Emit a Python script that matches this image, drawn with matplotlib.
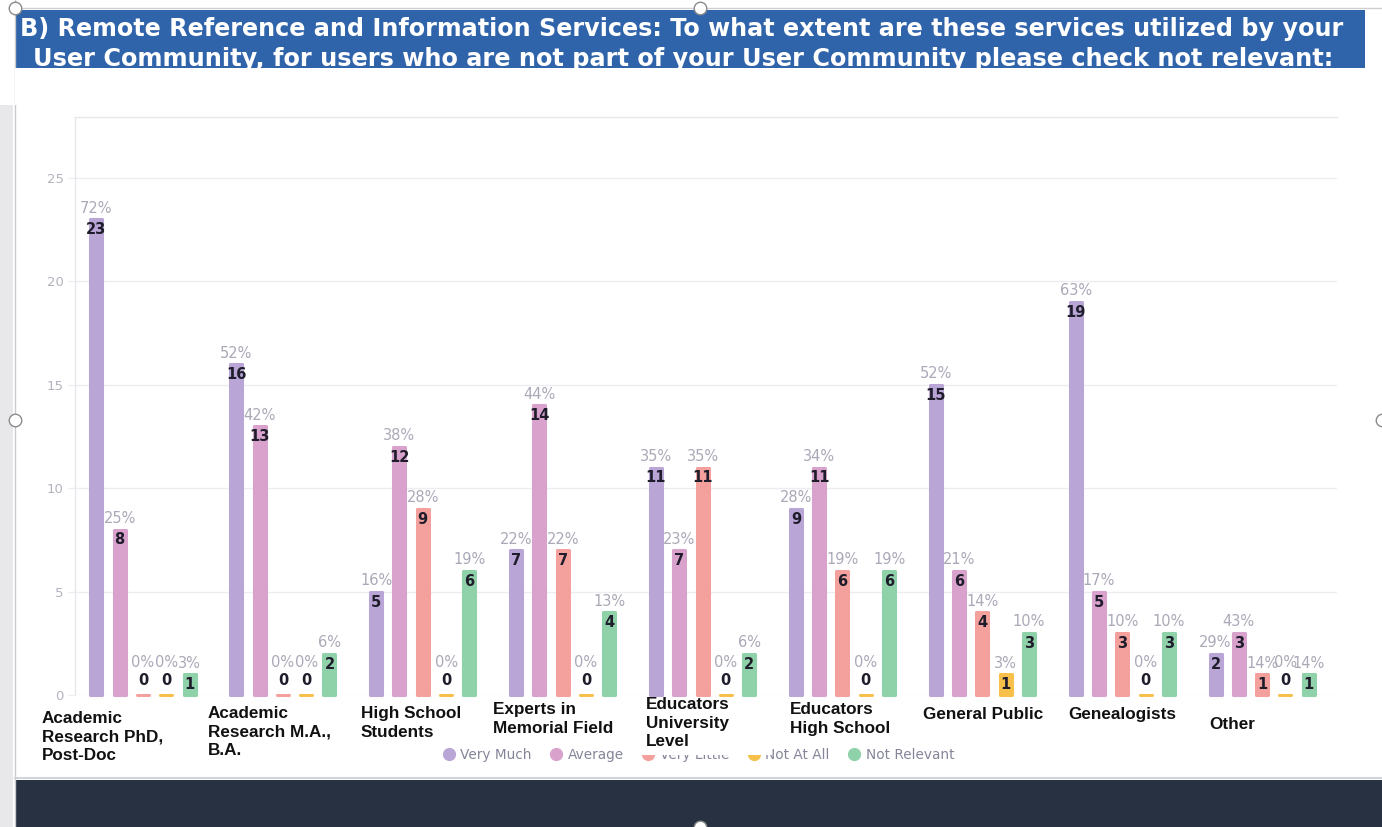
import matplotlib
matplotlib.use("Agg")
import matplotlib.pyplot as plt
from matplotlib.patches import Rectangle
from matplotlib.lines import Line2D
import numpy as np

# ---------------- data ----------------
categories = ["Academic\nResearch PhD,\nPost-Doc", "Academic\nResearch M.A.,\nB.A.",
              "High School\nStudents", "Experts in\nMemorial Field",
              "Educators\nUniversity\nLevel", "Educators\nHigh School",
              "General Public", "Genealogists", "Other"]
series_names = ["Very Much", "Average", "Very Little", "Not At All", "Not Relevant"]
very_much = [23, 16, 5, 7, 11, 9, 15, 19, 2]
average = [8, 13, 12, 14, 7, 11, 6, 5, 3]
very_little = [0, 0, 9, 7, 11, 6, 4, 3, 1]
not_at_all = [0, 0, 0, 0, 0, 0, 1, 0, 0]
not_relevant = [1, 2, 6, 4, 2, 6, 3, 3, 1]
pct_very_much = [72, 52, 16, 22, 35, 28, 52, 63, 29]
pct_average = [25, 42, 38, 44, 23, 34, 21, 17, 43]
pct_very_little = [0, 0, 28, 22, 35, 19, 14, 10, 14]
pct_not_at_all = [0, 0, 0, 0, 0, 0, 3, 0, 0]
pct_not_relevant = [3, 6, 19, 13, 6, 19, 10, 10, 14]
y_ticks = [0, 5, 10, 15, 20, 25]
title_line1 = "B) Remote Reference and Information Services: To what extent are these services utilized by your"
title_line2 = "User Community, for users who are not part of your User Community please check not relevant:"

counts = [very_much, average, very_little, not_at_all, not_relevant]
pcts = [pct_very_much, pct_average, pct_very_little, pct_not_at_all, pct_not_relevant]
colors = ["#b9a5d6", "#d9a2cd", "#f4a19d", "#f6c04a", "#8fd2a9"]

# ---------------- layout ----------------
W, H = 1382, 827
fig = plt.figure(figsize=(W / 100, H / 100), dpi=100)
fig.patch.set_facecolor("white")

def frac(x, y):
    return x / W, 1 - y / H

# background overlay (pixel coordinates)
bg = fig.add_axes([0, 0, 1, 1], zorder=0)
bg.set_xlim(0, W)
bg.set_ylim(H, 0)
bg.axis("off")
bg.add_patch(Rectangle((0, 105), 13, H - 105, color="#e8e8ea", lw=0))
bg.plot([15, 15], [0, H], color="#c9c9ce", lw=1)
bg.plot([15, W], [8, 8], color="#d0d0d4", lw=1)
bg.add_patch(Rectangle((15, 10), 1350, 58, color="#2f63aa", lw=0, zorder=1))
t1 = bg.text(20, 36, title_line1, color="white", fontsize=18, fontweight="bold",
             ha="left", va="baseline", family="DejaVu Sans", zorder=2)
t2 = bg.text(33, 66, title_line2, color="white", fontsize=18, fontweight="bold",
             ha="left", va="baseline", family="DejaVu Sans", zorder=2)
bg.add_patch(Rectangle((15, 68), W, 37, color="white", lw=0, zorder=3))
bg.plot([15, W], [778, 778], color="#cfd3da", lw=1.5)
bg.add_patch(Rectangle((15, 780), W, 47, color="#283142", lw=0))

# fit title widths
fig.canvas.draw()
r = fig.canvas.get_renderer()
for t, target in ((t1, 1325), (t2, 1302)):
    w = t.get_window_extent(r).width
    t.set_fontsize(18 * target / w)

# main axes
x0, x1, ytop, ybot = 75, 1337, 117, 695
ax = fig.add_axes([x0 / W, (H - ybot) / H, (x1 - x0) / W, (ybot - ytop) / H], zorder=2)
ax.set_facecolor("none")
ymax = (ybot - ytop) / 20.68
ax.set_ylim(0, ymax)
ax.set_xlim(-0.486, 8.535)

x = np.arange(len(categories))
step = 23.3 / 139.9
bw = 12 / 139.9
for k, (vals, pv, c) in enumerate(zip(counts, pcts, colors)):
    xs = x + (k - 2) * step
    ax.bar(xs, vals, width=bw, color=c, edgecolor=c, linewidth=2.2,
           joinstyle="round", capstyle="round", zorder=3, clip_on=False)
    for xi, v, p in zip(xs, vals, pv):
        if v > 0:
            ax.annotate(f"{p}%", (xi, v), xytext=(0, 8), textcoords="offset points",
                        ha="center", va="center", fontsize=10.5, color="#a9a9b8", zorder=4)
            ax.annotate(str(v), (xi, v), xytext=(0, -7.5), textcoords="offset points",
                        ha="center", va="center", fontsize=10.5, fontweight="bold",
                        color="#1f1d2b", zorder=4)
        else:
            ax.annotate(f"{p}%", (xi, v), xytext=(0, 23.5), textcoords="offset points",
                        ha="center", va="center", fontsize=10.5, color="#a9a9b8", zorder=4)
            ax.annotate(str(v), (xi, v), xytext=(0, 10.5), textcoords="offset points",
                        ha="center", va="center", fontsize=10.5, fontweight="bold",
                        color="#1f1d2b", zorder=4)

ax.set_yticks(y_ticks)
ax.set_yticklabels([str(t) for t in y_ticks])
ax.set_xticks([])
ax.grid(axis="y", color="#ececf1", lw=1, zorder=0)
ax.tick_params(axis="y", length=5, color="#ececf1", labelsize=9.5, labelcolor="#b3b3bf", pad=3)
for s in ["right", "bottom"]:
    ax.spines[s].set_visible(False)
for s in ["left", "top"]:
    ax.spines[s].set_color("#e6e6eb")
    ax.spines[s].set_linewidth(1)

# legend
handles = [Line2D([], [], marker="o", ls="none", markersize=8.5, markerfacecolor=c,
                  markeredgecolor=c) for c in colors]
fig.legend(handles, series_names, loc="center", bbox_to_anchor=frac(698, 755), ncol=5,
           frameon=False, fontsize=9.8, labelcolor="#85859a", handletextpad=0.35,
           columnspacing=1.3, handlelength=1.0)

# foreground overlay
fg = fig.add_axes([0, 0, 1, 1], zorder=10)
fg.set_xlim(0, W)
fg.set_ylim(H, 0)
fg.axis("off")
fg.patch.set_alpha(0)
fg.add_patch(Rectangle((633, 699), 138, 56, color="white", lw=0, zorder=1))
label_pos = [(42, 719), (208, 714), (361, 714), (493, 710), (646, 705),
             (790, 710), (923, 715), (1068, 715), (1209, 725)]
for lab, (lx, ly) in zip(categories, label_pos):
    fg.text(lx, ly - 8, lab, ha="left", va="top", fontsize=12.3, fontweight="bold",
            family="Liberation Sans", color="#111111", linespacing=1.3, zorder=2)
for hx, hy in [(15, 8), (700, 8), (15, 420), (1382, 420), (700, 827)]:
    fg.plot(hx, hy, marker="o", markersize=9, markerfacecolor="white",
            markeredgecolor="#8a8a8a", markeredgewidth=1, clip_on=False, zorder=3)

fig.savefig("out.png", dpi=100)
